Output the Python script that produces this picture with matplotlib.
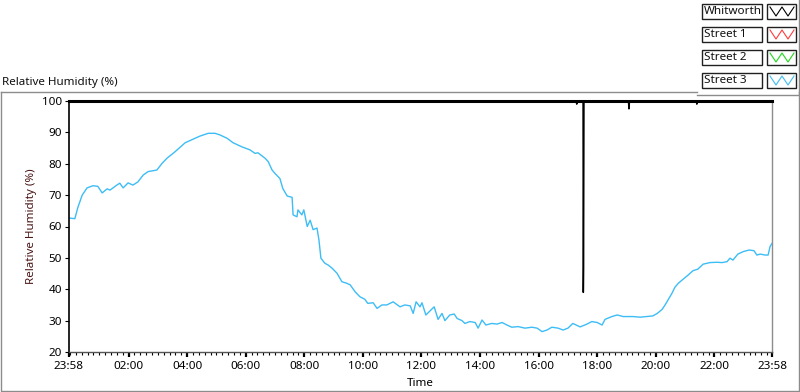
import matplotlib
matplotlib.use("Agg")
import matplotlib.pyplot as plt
from matplotlib.lines import Line2D
from matplotlib.patches import Rectangle

# ---------------- data ----------------
# minutes after the 23:58 start
street3_minutes = [0, 12, 18, 27, 37, 49, 59, 68, 78, 84, 98, 104, 111, 121, 131, 141, 152, 162,
                   180, 191, 201, 217, 238, 254, 268, 285, 299, 309, 324, 336, 354, 371, 381,
                   387, 402, 408, 416, 422, 432, 438, 447, 457, 459, 467, 469, 477, 481, 488,
                   494, 500, 508, 512, 516, 524, 531, 539, 549, 559, 569, 576, 586, 596, 606,
                   612, 623, 631, 641, 651, 664, 678, 688, 699, 705, 711, 719, 723, 731, 740,
                   748, 756, 764, 770, 780, 789, 795, 805, 811, 821, 832, 838, 846, 854, 866,
                   877, 887, 897, 907, 920, 934, 948, 959, 969, 979, 989, 1002, 1012, 1022,
                   1032, 1047, 1061, 1071, 1082, 1092, 1098, 1112, 1123, 1135, 1155, 1170,
                   1184, 1196, 1205, 1215, 1221, 1227, 1235, 1241, 1248, 1258, 1268, 1278,
                   1288, 1299, 1313, 1327, 1338, 1348, 1354, 1360, 1370, 1381, 1393, 1403,
                   1409, 1416, 1426, 1432, 1436, 1440]
street3_rh = [62.7, 62.5, 66.0, 70.0, 72.3, 73.0, 72.8, 70.7, 72.0, 71.6, 73.2, 73.8, 72.3, 73.9,
              73.2, 74.2, 76.4, 77.5, 78.0, 80.2, 81.8, 83.8, 86.7, 87.8, 88.8, 89.7, 89.7,
              89.2, 88.1, 86.7, 85.4, 84.4, 83.3, 83.5, 81.7, 80.7, 78.0, 76.9, 75.3, 72.1,
              69.7, 69.3, 63.7, 63.1, 65.3, 63.7, 65.3, 60.0, 62.0, 59.0, 59.5, 55.7, 49.9,
              48.3, 47.7, 46.7, 45.1, 42.4, 41.9, 41.4, 39.2, 37.6, 36.8, 35.5, 35.7, 33.9,
              35.0, 35.0, 36.0, 34.4, 35.0, 34.7, 32.3, 36.0, 34.4, 35.7, 31.8, 33.2, 34.4,
              30.4, 32.3, 30.0, 31.8, 32.1, 30.7, 30.0, 29.1, 29.7, 29.4, 27.6, 30.2, 28.6,
              29.1, 28.9, 29.4, 28.6, 27.9, 28.1, 27.6, 27.9, 27.6, 26.5, 27.0, 27.9, 27.6,
              27.0, 27.6, 29.1, 28.0, 28.9, 29.7, 29.4, 28.6, 30.4, 31.3, 31.8, 31.3, 31.3,
              31.1, 31.3, 31.5, 32.3, 33.6, 35.0, 36.6, 38.7, 40.6, 41.9, 43.2, 44.5, 45.9,
              46.4, 48.0, 48.5, 48.6, 48.5, 48.8, 49.9, 49.3, 51.2, 52.0, 52.5, 52.3, 50.9,
              51.2, 50.9, 50.9, 53.6, 54.6]

whitworth_minutes = [0, 1039, 1040, 1041, 1052, 1053, 1053.5, 1054, 1054.8, 1146, 1147, 1148,
                     1285, 1286, 1287, 1440]
whitworth_rh = [100, 100, 99, 100, 100, 100, 39, 47, 100, 100, 97.5, 100, 100, 99, 100, 100]

series_names = ["Whitworth", "Street 1", "Street 2", "Street 3"]
series_colors = ["#000000", "#ff3c3c", "#1fd81f", "#3dbdf5"]

x_tick_minutes = [0, 122, 242, 362, 482, 602, 722, 842, 962, 1082, 1202, 1322, 1440]
x_tick_labels = ["23:58", "02:00", "04:00", "06:00", "08:00", "10:00", "12:00",
                 "14:00", "16:00", "18:00", "20:00", "22:00", "23:58"]
y_ticks = [20, 30, 40, 50, 60, 70, 80, 90, 100]

# ---------------- figure ----------------
W, H = 800, 392
plt.rcParams["font.family"] = ["Noto Sans", "DejaVu Sans"]
fig = plt.figure(figsize=(W / 100, H / 100), dpi=100)
fig.patch.set_facecolor("white")

FS = 8.4

# overlay for panel frames / legend in pixel coordinates
ov = fig.add_axes([0, 0, 1, 1], zorder=0)
ov.set_xlim(0, W)
ov.set_ylim(H, 0)
ov.axis("off")
ov.patch.set_alpha(0)

gray = "#8c8c8c"
# main panel frame
ov.add_line(Line2D([0.5, 0.5, 798.5, 798.5], [92, 391, 391, 92], color=gray, lw=1))
ov.add_line(Line2D([0.5, 697], [92, 92], color=gray, lw=1))
# legend panel frame
ov.add_line(Line2D([697, 798.5, 798.5], [95, 95, 0], color=gray, lw=1))

# title
ov.text(2, 82, "Relative Humidity (%)", fontsize=FS, va="center", ha="left", color="#111111")

# legend
for i, (name, col) in enumerate(zip(series_names, series_colors)):
    top = 4 + i * 23
    ov.add_patch(Rectangle((702, top), 60, 15, fill=True, facecolor="white",
                           edgecolor="#202020", lw=1))
    ov.text(703.5, top + 7.5, name, fontsize=FS, va="center", ha="left", color="#111111")
    ov.add_patch(Rectangle((767, top), 29, 15, fill=True, facecolor="white",
                           edgecolor="#202020", lw=1))
    zx = [770, 776, 782, 788, 794]
    zy = [top + 3, top + 12, top + 3, top + 12, top + 3]
    ov.add_line(Line2D(zx, zy, color=col, lw=0.8))

# main axes
L, R, T, B = 69, 772, 101, 352
ax = fig.add_axes([L / W, (H - B) / H, (R - L) / W, (B - T) / H], zorder=2)
ax.set_xlim(0, 1440)
ax.set_ylim(20, 100)

ax.plot(street3_minutes, street3_rh, color=series_colors[3], lw=1.0)
ax.plot(whitworth_minutes, whitworth_rh, color=series_colors[0], lw=1.1, clip_on=False,
        zorder=4)

ax.set_xticks(x_tick_minutes)
ax.set_xticklabels(x_tick_labels)
ax.set_xticks(list(range(2, 1440, 12)), minor=True)
ax.set_yticks(y_ticks)
ax.set_yticklabels([str(v) for v in y_ticks])

ax.tick_params(axis="x", which="major", length=3.5, width=1.6, pad=3, labelsize=FS,
               direction="out", colors="black")
ax.tick_params(axis="x", which="minor", length=2, width=0.8, direction="out", colors="black")
ax.tick_params(axis="y", which="major", length=3, width=0.8, pad=2, labelsize=FS,
               direction="out", colors="black")

ax.spines["top"].set_color("black")
ax.spines["top"].set_linewidth(2.2)
ax.spines["top"].set_zorder(5)
ax.spines["right"].set_color(gray)
ax.spines["right"].set_linewidth(1)
ax.spines["left"].set_color("black")
ax.spines["left"].set_linewidth(1.2)
ax.spines["bottom"].set_color("#555555")
ax.spines["bottom"].set_linewidth(1)

ax.set_xlabel("Time", fontsize=FS)
ax.xaxis.set_label_coords(0.5, -0.125)
ax.xaxis.label.set_va("center")
ax.set_ylabel("Relative Humidity (%)", fontsize=FS, color="#4a1515")
ax.yaxis.set_label_coords(-0.053, 0.5)
ax.yaxis.label.set_va("center")

fig.savefig("out.png", dpi=100, facecolor="white")
